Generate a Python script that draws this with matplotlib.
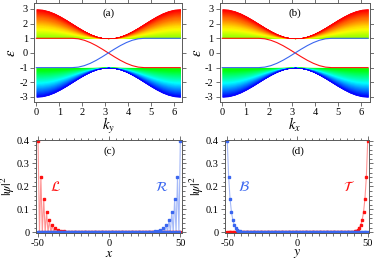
import numpy as np
import matplotlib
matplotlib.use("Agg")
import matplotlib.pyplot as plt

plt.rcParams['font.family'] = ['Liberation Serif', 'DejaVu Serif']
plt.rcParams['mathtext.fontset'] = 'stix'
plt.rcParams['axes.unicode_minus'] = False

# momentum grid (step pi/12) and values (a)/(b)
k = np.linspace(0, 2 * np.pi, 25)
band_top = [3.0, 2.97, 2.87, 2.71, 2.5, 2.26, 2.0, 1.74, 1.5, 1.29, 1.13, 1.03, 1.0,
            1.03, 1.13, 1.29, 1.5, 1.74, 2.0, 2.26, 2.5, 2.71, 2.87, 2.97, 3.0]
band_edge = 1.0
edge_red = [1.0, 1.0, 1.0, 1.0, 1.0, 1.0, 1.0, 0.966, 0.866, 0.707, 0.5, 0.259, 0.0,
            -0.259, -0.5, -0.707, -0.866, -0.966, -1.0, -1.0, -1.0, -1.0, -1.0, -1.0, -1.0]
edge_blue = [-v for v in edge_red]

# edge-state weights |psi|^2 (c)/(d), from the edge inward
sites = np.arange(-50, 51)
decay = [0.40, 0.24, 0.145, 0.087, 0.052, 0.031, 0.019, 0.011, 0.007, 0.004,
         0.0025, 0.0015, 0.0009, 0.0005, 0.0003, 0.0002]

RED = '#ff1010'
BLUE = '#3a66f0'


def band_panel(ax, xlabel, tag):
    top = np.array(band_top)
    nstrip = 70
    cmap = plt.get_cmap('hsv')
    for i in range(nstrip):
        f0, f1 = i / nstrip, (i + 1) / nstrip
        # upper band: yellow-green near +1 to red at top
        lo = band_edge + (top - band_edge) * f0
        hi = band_edge + (top - band_edge) * f1
        cu = cmap(0.26 * (1 - f1))
        cl = cmap(0.31 + 0.37 * f1)
        ax.fill_between(k, lo, hi, color=cu, lw=0.3, edgecolor=cu)
        # lower band: green near -1 to blue at bottom
        ax.fill_between(k, -lo, -hi, color=cl, lw=0.3, edgecolor=cl)
    ax.plot(k, edge_red, color=RED, lw=0.8)
    ax.plot(k, edge_blue, color=BLUE, lw=0.8)
    ax.set_xlim(-0.1, 2 * np.pi + 0.08)
    ax.set_ylim(-3.35, 3.4)
    ax.set_xticks(range(0, 7))
    ax.set_yticks(range(-3, 4))
    ax.set_xlabel(xlabel, fontsize=10.5, labelpad=-1)
    ax.set_ylabel(r'$\varepsilon$', fontsize=10.5, labelpad=1)
    ax.text(np.pi, 2.72, tag, ha='center', va='center', fontsize=8)


def profile(left):
    vals = np.zeros(len(sites))
    for n, v in enumerate(decay):
        vals[n if left else len(sites) - 1 - n] = v
    return vals


def alternate(left):
    out = np.zeros(len(sites))
    for n, v in enumerate(decay):
        idx = 2 * n if left else len(sites) - 1 - 2 * n
        out[idx] = v
    return out


def wave_panel(ax, red_vals, blue_vals, xlabel, tag, labels):
    ax.plot(sites, red_vals, color=RED, lw=0.8, alpha=0.45)
    ax.plot(sites, red_vals, ls='none', marker='s', ms=1.8, color=RED)
    ax.plot(sites, blue_vals, color=BLUE, lw=0.8, alpha=0.45)
    ax.plot(sites, blue_vals, ls='none', marker='s', ms=1.8, color=BLUE)
    ax.set_xlim(-51.5, 51)
    ax.set_ylim(-0.003, 0.403)
    ax.set_xticks([-50, 0, 50])
    ax.set_xticks(np.arange(-50, 51, 5), minor=True)
    ax.set_yticks([0, 0.1, 0.2, 0.3, 0.4])
    ax.set_yticklabels(['0', '0.1', '0.2', '0.3', '0.4'])
    ax.set_yticks(np.arange(0, 0.41, 0.02), minor=True)
    ax.set_xlabel(xlabel, fontsize=10, labelpad=-1)
    ax.set_ylabel(r'$|\psi|^2$', fontsize=9.5, labelpad=0)
    ax.text(0, 0.352, tag, ha='center', va='center', fontsize=8)
    for (x, txt, c) in labels:
        ax.text(x, 0.195, txt, ha='center', va='center', fontsize=10, color=c)


fig = plt.figure(figsize=(3.74, 2.61), dpi=100)
ax_a = fig.add_axes([0.091, 0.609, 0.396, 0.379])
ax_b = fig.add_axes([0.588, 0.609, 0.401, 0.379])
ax_c = fig.add_axes([0.096, 0.108, 0.390, 0.356])
ax_d = fig.add_axes([0.602, 0.108, 0.385, 0.356])

band_panel(ax_a, r'$k_y$', '(a)')
band_panel(ax_b, r'$k_x$', '(b)')

wave_panel(ax_c, alternate(True), alternate(False), r'$x$', '(c)',
           [(-38, r'$\mathcal{L}$', RED), (37, r'$\mathcal{R}$', BLUE)])
wave_panel(ax_d, profile(False), profile(True), r'$y$', '(d)',
           [(-38, r'$\mathcal{B}$', BLUE), (36.5, r'$\mathcal{T}$', RED)])

for ax in (ax_a, ax_b, ax_c, ax_d):
    ax.tick_params(which='both', direction='out', top=True, right=True,
                   labelsize=7.5, pad=1.5, width=0.6, color='0.35')
    ax.tick_params(which='major', length=3)
    ax.tick_params(which='minor', length=1.8)
    for s in ax.spines.values():
        s.set_linewidth(0.7)
        s.set_color('0.35')

fig.savefig('out.png', dpi=100)
